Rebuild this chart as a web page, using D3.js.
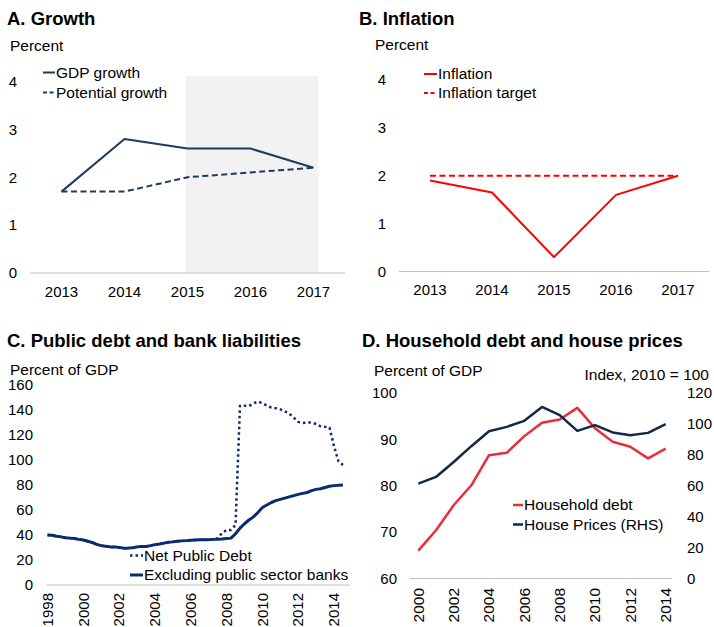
<!DOCTYPE html>
<html><head><meta charset="utf-8">
<script src="https://cdn.jsdelivr.net/npm/d3@7/dist/d3.min.js"></script>
<style>body{margin:0;background:#fff}svg{display:block;font-family:"Liberation Sans",Arial,sans-serif}</style>
</head><body><svg id="c" width="714" height="627"></svg>
<script>
// ---- Panel A: Growth ----
const yearsAB = [2013, 2014, 2015, 2016, 2017];
const gdpGrowth = [1.7, 2.8, 2.6, 2.6, 2.2];
const potentialGrowth = [1.7, 1.7, 2.0, 2.1, 2.2];
const ticksAB = [0, 1, 2, 3, 4];
const shadeRange = [2015, 2017];
// ---- Panel B: Inflation ----
const inflation = [1.9, 1.65, 0.3, 1.6, 2.0];
const inflationTarget = [2, 2, 2, 2, 2];
// ---- Panel C: Public debt (quarterly, Percent of GDP) ----
const quartersC = d3.range(0, 67).map(i => 1998 + i / 4);
const exclBanks = [40,39.8,39,38.5,37.8,37.5,37.2,36.5,36,35,34,32.5,31.5,31,30.5,30.5,
  30,29.5,29.5,29.8,30.5,30.8,30.8,31.5,32.3,32.8,33.5,34.2,34.5,35,35.3,35.5,
  35.8,36,36.2,36.3,36.3,36.5,36.6,36.8,37.2,37.5,41,45.5,49,52,54.5,58,
  62,64,66,67.5,68.5,69.5,70.5,71.5,72.5,73.3,74,75.5,76.5,77,78,79,79.5,79.8,80];
const netPublicDebt = [40,39.8,39,38.5,37.8,37.5,37.2,36.5,36,35,34,32.5,31.5,31,30.5,30.5,
  30,29.5,29.5,29.8,30.5,30.8,30.8,31.5,32.3,32.8,33.5,34.2,34.5,35,35.3,35.5,
  35.8,36,36.2,36.3,36.3,36.5,37.5,41.5,44,44,48,143.5,143.5,143.2,145.3,146.7,
  145.5,143.5,142,141.5,140.5,139,137,134,130.5,129.5,130,130,128.8,127,126.5,126,111,99,96];
const ticksC = [0, 20, 40, 60, 80, 100, 120, 140, 160];
const yearLabelsC = [1998, 2000, 2002, 2004, 2006, 2008, 2010, 2012, 2014];
// ---- Panel D: Household debt & house prices ----
const yearsD = d3.range(2000, 2015);
const householdDebt = [66,70.4,75.8,80.1,86.6,87.1,90.7,93.6,94.3,96.8,92.4,89.5,88.4,85.9,88];
const housePrices = [61.4,65.7,75.4,85.6,95.3,98.1,102,111,105.7,95.5,99.2,94.5,92.7,94.2,99.9];
const ticksDL = [60, 70, 80, 90, 100];
const ticksDR = [0, 20, 40, 60, 80, 100, 120];
const yearLabelsD = [2000, 2002, 2004, 2006, 2008, 2010, 2012, 2014];

const svg = d3.select("#c");
const NAVY_A = "#1F3A5F", NAVY_C = "#0A2B70", NAVY_D = "#0E2A47", RED_B = "#FF0000", RED_D = "#EC2B3B";
const AXIS = "#BFBFBF", TXT = "#000";
const FT = 18.5, FL = 15.5, FK = 15;

function title(x, y, t) { svg.append("text").attr("x", x).attr("y", y).attr("font-size", FT).attr("font-weight", "bold").attr("fill", TXT).text(t); }
function label(x, y, t, anchor, fs) { svg.append("text").attr("x", x).attr("y", y).attr("font-size", fs || FL).attr("fill", TXT).attr("text-anchor", anchor || "start").text(t); }
function legend(x1, x2, y, color, dash, w, t) {
  svg.append("line").attr("x1", x1).attr("x2", x2).attr("y1", y).attr("y2", y).attr("stroke", color).attr("stroke-width", w).attr("stroke-dasharray", dash);
  svg.append("text").attr("x", x2 + 1).attr("y", y).attr("dy", "0.35em").attr("font-size", FL).attr("fill", TXT).text(t);
}
function path(data, x, y, color, w, dash) {
  svg.append("path").datum(data).attr("fill", "none").attr("stroke", color).attr("stroke-width", w)
    .attr("stroke-dasharray", dash).attr("stroke-linejoin", "round")
    .attr("d", d3.line().x(d => x(d[0])).y(d => y(d[1])));
}
function yTicks(scale, ticks, x, anchor) {
  ticks.forEach(t => svg.append("text").attr("x", x).attr("y", scale(t)).attr("dy", "0.35em").attr("font-size", FK)
    .attr("text-anchor", anchor).attr("fill", TXT).text(t));
}
function rotLabels(years, x, top, fs) {
  years.forEach(yr => svg.append("text").attr("transform", `translate(${x(yr)},${top}) rotate(-90)`).attr("dy", "0.35em")
    .attr("text-anchor", "end").attr("font-size", fs).attr("fill", TXT).text(yr));
}

// Panel A
{
  const x = d3.scalePoint().domain(yearsAB).range([30, 345]).padding(0.5);
  const y = d3.scaleLinear().domain([0, 4]).range([273, 81.5]);
  svg.append("rect").attr("x", x(shadeRange[0]) - 1.5).attr("y", y(4.12)).attr("width", x(shadeRange[1]) - x(shadeRange[0]) + 6)
    .attr("height", y(0) - y(4.12)).attr("fill", "#F2F2F2");
  svg.append("line").attr("x1", 30).attr("x2", 345).attr("y1", y(0)).attr("y2", y(0)).attr("stroke", AXIS);
  yTicks(y, ticksAB, 17, "end");
  yearsAB.forEach(yr => label(x(yr), 297, yr, "middle", FK));
  path(yearsAB.map((d, i) => [d, potentialGrowth[i]]), x, y, NAVY_A, 2, "6,3.5");
  path(yearsAB.map((d, i) => [d, gdpGrowth[i]]), x, y, NAVY_A, 2);
  title(7, 25, "A. Growth");
  label(10, 51, "Percent");
  legend(43, 55, 72.5, NAVY_A, null, 2, "GDP growth");
  legend(43, 55, 92.5, NAVY_A, "4,2.5", 2, "Potential growth");
}
// Panel B
{
  const x = d3.scalePoint().domain(yearsAB).range([399, 709]).padding(0.5);
  const y = d3.scaleLinear().domain([0, 4]).range([271.5, 80]);
  svg.append("line").attr("x1", 399).attr("x2", 709).attr("y1", y(0)).attr("y2", y(0)).attr("stroke", AXIS);
  yTicks(y, ticksAB, 386, "end");
  yearsAB.forEach(yr => label(x(yr), 295, yr, "middle", FK));
  path(yearsAB.map((d, i) => [d, inflationTarget[i]]), x, y, RED_B, 2, "6,3.5");
  path(yearsAB.map((d, i) => [d, inflation[i]]), x, y, RED_B, 2);
  title(359, 25, "B. Inflation");
  label(375, 50, "Percent");
  legend(424, 437, 74, RED_B, null, 2, "Inflation");
  legend(424, 437, 93, RED_B, "4,2.5", 2, "Inflation target");
}
// Panel C
{
  const x = d3.scaleLinear().domain([1998, 2014]).range([47.5, 334]);
  const y = d3.scaleLinear().domain([0, 160]).range([585, 385]);
  svg.append("line").attr("x1", 47).attr("x2", 350).attr("y1", y(0)).attr("y2", y(0)).attr("stroke", AXIS);
  yTicks(y, ticksC, 33, "end");
  rotLabels(yearLabelsC, x, 593, 15);
  path(quartersC.map((d, i) => [d, netPublicDebt[i]]), x, y, NAVY_C, 2.5, "2.5,3");
  path(quartersC.map((d, i) => [d, exclBanks[i]]), x, y, NAVY_C, 3);
  title(7, 347, "C. Public debt and bank liabilities");
  label(10, 375, "Percent of GDP");
  legend(130, 143, 555.5, NAVY_C, "2.5,3", 2.5, "Net Public Debt");
  legend(130, 143, 575, NAVY_C, null, 3, "Excluding public sector banks");
}
// Panel D
{
  const x = d3.scalePoint().domain(yearsD).range([409.5, 674.5]).padding(0.5);
  const yL = d3.scaleLinear().domain([60, 100]).range([578.5, 393]);
  const yR = d3.scaleLinear().domain([0, 120]).range([578.5, 393]);
  svg.append("line").attr("x1", 409.5).attr("x2", 672).attr("y1", yL(60)).attr("y2", yL(60)).attr("stroke", AXIS);
  yTicks(yL, ticksDL, 397, "end");
  yTicks(yR, ticksDR, 687, "start");
  rotLabels(yearLabelsD, x, 588, FL);
  path(yearsD.map((d, i) => [d, householdDebt[i]]), x, yL, RED_D, 2.5);
  path(yearsD.map((d, i) => [d, housePrices[i]]), x, yR, NAVY_D, 2.5);
  title(362, 347, "D. Household debt and house prices");
  label(374, 376, "Percent of GDP");
  label(709, 380, "Index, 2010 = 100", "end");
  legend(513, 523, 505, RED_D, null, 2.5, "Household debt");
  legend(513, 523, 524.5, NAVY_D, null, 2.5, "House Prices (RHS)");
}
</script></body></html>
